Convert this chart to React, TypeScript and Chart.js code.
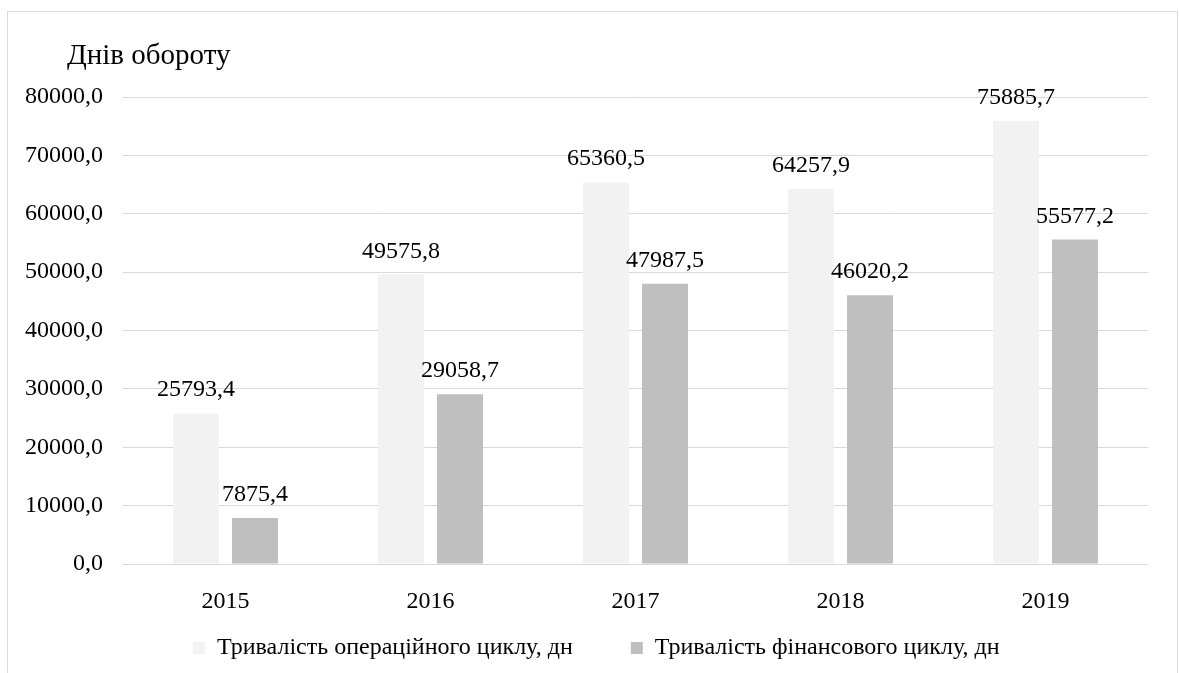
import React, { useEffect, useRef } from 'react';
import { Chart, registerables } from 'chart.js';

Chart.register(...registerables);

const years = ['2015', '2016', '2017', '2018', '2019'];
const operatingCycle = [25793.4, 49575.8, 65360.5, 64257.9, 75885.7];
const financialCycle = [7875.4, 29058.7, 47987.5, 46020.2, 55577.2];
const seriesNames = ['Тривалість операційного циклу, дн', 'Тривалість фінансового циклу, дн'];
const axisTitle = 'Днів обороту';
const yMin = 0;
const yMax = 80000;
const yStep = 10000;

const FONT = "'Liberation Serif', 'Times New Roman', serif";
const FS = 24;
const fmt = (v: number) => Number(v).toFixed(1).replace('.', ',');

const valueLabels = {
  id: 'valueLabels',
  afterDatasetsDraw(chart: any) {
    const ctx = chart.ctx;
    ctx.save();
    ctx.font = `${FS}px ${FONT}`;
    ctx.fillStyle = '#000';
    ctx.textAlign = 'center';
    ctx.textBaseline = 'alphabetic';
    chart.data.datasets.forEach((ds: any, i: number) => {
      const meta = chart.getDatasetMeta(i);
      meta.data.forEach((bar: any, j: number) => {
        ctx.fillText(fmt(ds.data[j]), bar.x, bar.y - 17);
      });
    });
    ctx.restore();
  },
};

const unitTitle = {
  id: 'unitTitle',
  afterDraw(chart: any) {
    const ctx = chart.ctx;
    ctx.save();
    ctx.font = `29px ${FONT}`;
    ctx.fillStyle = '#000';
    ctx.textAlign = 'left';
    ctx.textBaseline = 'alphabetic';
    ctx.fillText(axisTitle, chart.chartArea.left - 56, 51.5);
    ctx.restore();
  },
};

const legendPlacer = {
  id: 'legendPlacer',
  afterLayout(chart: any) {
    const lg = chart.legend;
    if (!lg) return;
    const h = lg.height;
    const w = lg.width;
    lg.top = 566;
    lg.bottom = 566 + h;
    lg.left = 127;
    lg.right = 127 + w;
  },
};

export default function App() {
  const ref = useRef<HTMLCanvasElement | null>(null);
  useEffect(() => {
    if (!ref.current) return;
    const chart = new Chart(ref.current, {
      type: 'bar',
      data: {
        labels: years,
        datasets: [
          {
            label: seriesNames[0],
            data: operatingCycle,
            backgroundColor: '#f2f2f2',
            borderWidth: 0,
            categoryPercentage: 0.5756,
            barPercentage: 0.78,
          },
          {
            label: seriesNames[1],
            data: financialCycle,
            backgroundColor: '#bfbfbf',
            borderWidth: 0,
            categoryPercentage: 0.5756,
            barPercentage: 0.78,
          },
        ],
      },
      options: {
        animation: false,
        responsive: true,
        maintainAspectRatio: false,
        layout: { padding: { left: 0, right: 29, top: 85, bottom: 0 } },
        plugins: {
          tooltip: { enabled: false },
          title: { display: false },
          legend: {
            position: 'bottom',
            align: 'start',
            labels: {
              boxWidth: 12,
              boxHeight: 12,
              padding: 58,
              color: '#000',
              font: { family: FONT, size: FS },
            },
          },
        },
        scales: {
          x: {
            grid: { display: false },
            border: { display: false },
            ticks: { color: '#000', padding: 15, font: { family: FONT, size: FS } },
            afterFit: (s: any) => {
              s.height = 44;
            },
          },
          y: {
            min: yMin,
            max: yMax,
            border: { display: false },
            grid: { color: '#d9d9d9', lineWidth: 1, drawTicks: false },
            ticks: {
              stepSize: yStep,
              color: '#000',
              padding: 20,
              font: { family: FONT, size: FS },
              callback: (v: any) => fmt(v),
            },
            afterFit: (s: any) => {
              s.width = 115;
            },
          },
        },
      } as any,
      plugins: [valueLabels, unitTitle, legendPlacer],
    });
    return () => chart.destroy();
  }, []);

  return (
    <div
      style={{
        position: 'absolute',
        left: 7,
        top: 11,
        width: 1169,
        height: 661,
        overflow: 'hidden',
        borderTop: '1px solid #d9d9d9',
        borderLeft: '1px solid #d9d9d9',
        borderRight: '1px solid #d9d9d9',
        background: '#fff',
      }}
    >
      <div style={{ position: 'relative', width: 1169, height: 688 }}>
        <canvas ref={ref} />
      </div>
    </div>
  );
}
